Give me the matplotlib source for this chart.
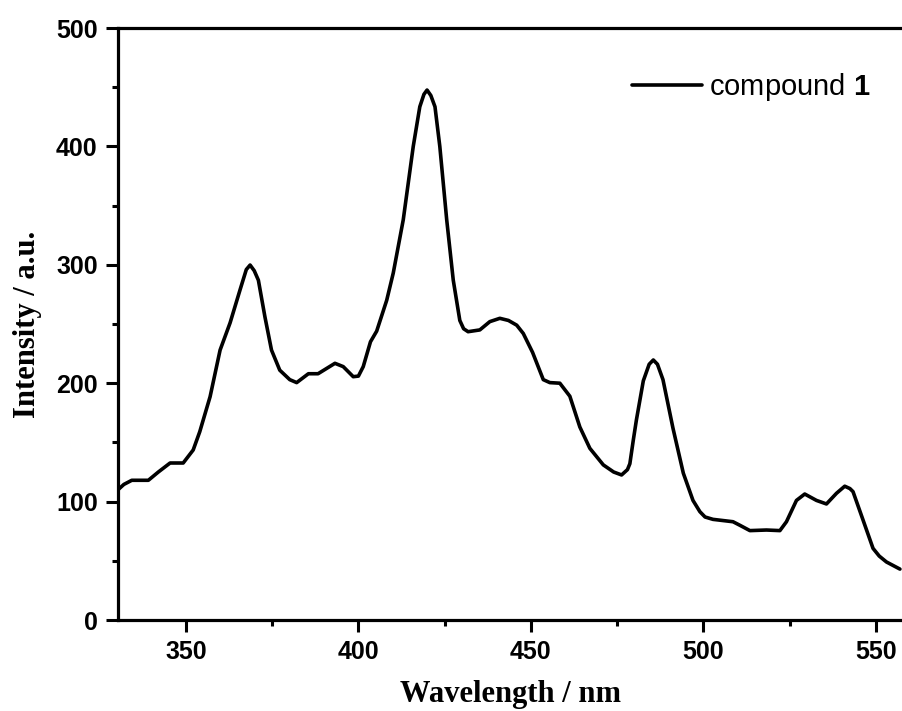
import matplotlib
matplotlib.use('Agg')  # Non-interactive backend
import matplotlib.pyplot as plt
from matplotlib.ticker import MultipleLocator

# Emission spectrum
wavelength = [330.3, 332.0, 334.3, 339.1, 342.0, 345.4, 349.2, 352.1, 354.0, 357.0,
              359.9, 362.8, 365.7, 367.5, 368.6, 369.8, 371.0, 372.9, 374.8, 377.2,
              380.1, 382.1, 385.5, 388.3, 393.2, 395.6, 398.5, 400.0, 401.4, 403.5,
              405.3, 408.2, 410.1, 413.0, 415.9, 417.8, 419.0, 419.9, 421.0, 422.2,
              423.6, 425.6, 427.5, 429.4, 430.5, 431.8, 435.2, 438.1, 441.0, 443.5,
              445.9, 447.8, 450.5, 453.6, 455.5, 458.4, 461.3, 464.2, 467.1, 471.0,
              474.0, 476.3, 478.0, 478.7, 479.7, 480.6, 482.6, 484.3, 485.5, 486.7,
              488.3, 491.2, 494.2, 497.0, 499.0, 500.5, 502.8, 508.6, 510.6, 513.5,
              518.3, 522.2, 524.1, 527.0, 529.4, 532.8, 535.7, 538.6, 541.0, 542.5,
              543.4, 546.3, 549.2, 551.0, 553.1, 557.0]
intensity = [110, 114.5, 118, 118, 125, 132.6, 132.6, 143.6, 159, 188.6,
             228, 251, 279, 296, 299.8, 295, 287, 256, 228, 211,
             203, 200.5, 208, 208, 216.8, 214, 205.5, 206, 214, 235,
             244, 270, 293, 338, 400, 433.5, 444, 447.6, 443, 433.5,
             400, 338, 287, 253, 246, 243.5, 245, 252, 254.8, 253,
             249, 242, 226, 203, 200.5, 200, 189, 163, 145, 131,
             125, 122.5, 127, 132, 152, 169, 202, 216, 219.6, 216,
             203, 162, 124, 101, 91.5, 87, 85, 83, 80, 75.5,
             76, 75.5, 83, 101, 106.4, 101, 98, 107, 113, 111,
             108.4, 84.5, 60.5, 54, 49, 43]

x_major = [350, 400, 450, 500, 550]
y_major = [0, 100, 200, 300, 400, 500]

plt.rcParams['mathtext.fontset'] = 'custom'
plt.rcParams['mathtext.bf'] = 'Liberation Sans:bold'
plt.rcParams['mathtext.rm'] = 'Liberation Sans'

fig = plt.figure(figsize=(9.02, 7.11), dpi=100)
ax = fig.add_axes([118 / 902, 91 / 711, 784 / 902, 592 / 711])

ax.plot(wavelength, intensity, color='black', linewidth=2.6,
        solid_joinstyle='round', solid_capstyle='round', label='compound $\\mathbf{1}$')

ax.set_xlim(330.3, 557.6)
ax.set_ylim(0, 500)
ax.set_xticks(x_major)
ax.set_yticks(y_major)
ax.xaxis.set_minor_locator(MultipleLocator(25))
ax.yaxis.set_minor_locator(MultipleLocator(50))

for side in ['left', 'bottom', 'top']:
    ax.spines[side].set_linewidth(2.3)
ax.spines['right'].set_visible(False)

ax.tick_params(which='major', direction='out', length=8.6, width=2.2, pad=6,
               top=False, right=False)
ax.tick_params(which='minor', direction='out', length=4.3, width=2.2,
               top=False, right=False)
for lbl in ax.get_xticklabels() + ax.get_yticklabels():
    lbl.set_fontfamily('Liberation Sans')
    lbl.set_fontweight('bold')
    lbl.set_fontsize(18)

ax.set_xlabel('Wavelength / nm', fontfamily='Liberation Serif', fontweight='bold',
              fontsize=22, labelpad=11)
ax.set_ylabel('Intensity / a.u.', fontfamily='Liberation Serif', fontweight='bold',
              fontsize=22, labelpad=10)

leg = ax.legend(loc='center right', bbox_to_anchor=((870 - 118) / 784, (620 - 87) / 592),
                frameon=False, borderaxespad=0, borderpad=0, handlelength=2.4,
                handletextpad=0.24, prop={'family': 'Liberation Sans', 'size': 21})

fig.savefig('out.png', dpi=100)
plt.close(fig)
